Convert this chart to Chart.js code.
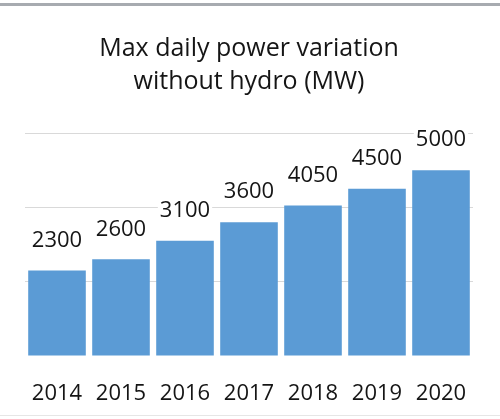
<!DOCTYPE html>
<html>
<head>
<meta charset="utf-8">
<script src="https://cdn.jsdelivr.net/npm/chart.js@4.4.1/dist/chart.umd.min.js"></script>
<style>
  html, body { margin: 0; padding: 0; background: #fff; }
  #wrap { width: 500px; height: 419px; position: relative; }
</style>
</head>
<body>
<div id="wrap"><canvas id="chart" width="500" height="419"></canvas></div>
<script>
// data
var years = ['2014', '2015', '2016', '2017', '2018', '2019', '2020'];
var maxVariationMW = [2300, 2600, 3100, 3600, 4050, 4500, 5000];
var titleLines = ['Max daily power variation', 'without hydro (MW)'];
var yMin = 0, yMax = 6000, yStep = 2000;

var FONT = "'Open Sans', sans-serif";
var TEXT = '#151515';

// white card + thin gray frame line at the top / bottom
var framePlugin = {
  id: 'frame',
  beforeDraw: function (chart) {
    var ctx = chart.ctx;
    ctx.save();
    ctx.fillStyle = '#fff';
    ctx.fillRect(0, 0, chart.width, chart.height);
    ctx.fillStyle = '#a7abb0';
    ctx.fillRect(0, 3, chart.width, 3);
    ctx.fillStyle = '#e6e6e6';
    ctx.fillRect(0, 415, chart.width, 1);
    ctx.restore();
  }
};

// value labels above each bar (no datalabels plugin available offline);
// white box behind them hides the gridline, like the original
var valueLabels = {
  id: 'valueLabels',
  afterDatasetsDraw: function (chart) {
    var ctx = chart.ctx;
    var meta = chart.getDatasetMeta(0);
    ctx.save();
    ctx.font = '22px ' + FONT;
    ctx.textAlign = 'center';
    ctx.textBaseline = 'middle';
    meta.data.forEach(function (bar, i) {
      var txt = String(chart.data.datasets[0].data[i]);
      var w = ctx.measureText(txt).width;
      var y = bar.y - 30;
      ctx.fillStyle = '#fff';
      ctx.fillRect(bar.x - w / 2 - 2, y - 11, w + 4, 22);
      ctx.fillStyle = TEXT;
      ctx.fillText(txt, bar.x, y);
    });
    ctx.restore();
  }
};

new Chart(document.getElementById('chart'), {
  type: 'bar',
  data: {
    labels: years,
    datasets: [{
      data: maxVariationMW,
      backgroundColor: '#5b9bd5',
      borderWidth: 0,
      barPercentage: 0.9,
      categoryPercentage: 1.0
    }]
  },
  options: {
    responsive: false,
    animation: false,
    layout: { padding: { left: 25, right: 27, bottom: 0 } },
    plugins: {
      legend: { display: false },
      tooltip: { enabled: false },
      title: {
        display: true,
        text: titleLines,
        color: TEXT,
        font: { family: FONT, size: 25, weight: 'normal', lineHeight: 33 / 25 },
        padding: { top: 32, bottom: 35 }
      }
    },
    scales: {
      x: {
        grid: { display: false, drawTicks: false },
        border: { display: false },
        ticks: { color: TEXT, padding: 25, font: { family: FONT, size: 22 } },
        afterFit: function (scale) { scale.height = 63; }
      },
      y: {
        min: yMin,
        max: yMax,
        ticks: { display: false, stepSize: yStep },
        grid: {
          drawTicks: false,
          color: function (c) { return c.tick && c.tick.value === 0 ? 'rgba(0,0,0,0)' : '#d9d9d9'; }
        },
        border: { display: false }
      }
    }
  },
  plugins: [framePlugin, valueLabels]
});
</script>
</body>
</html>
